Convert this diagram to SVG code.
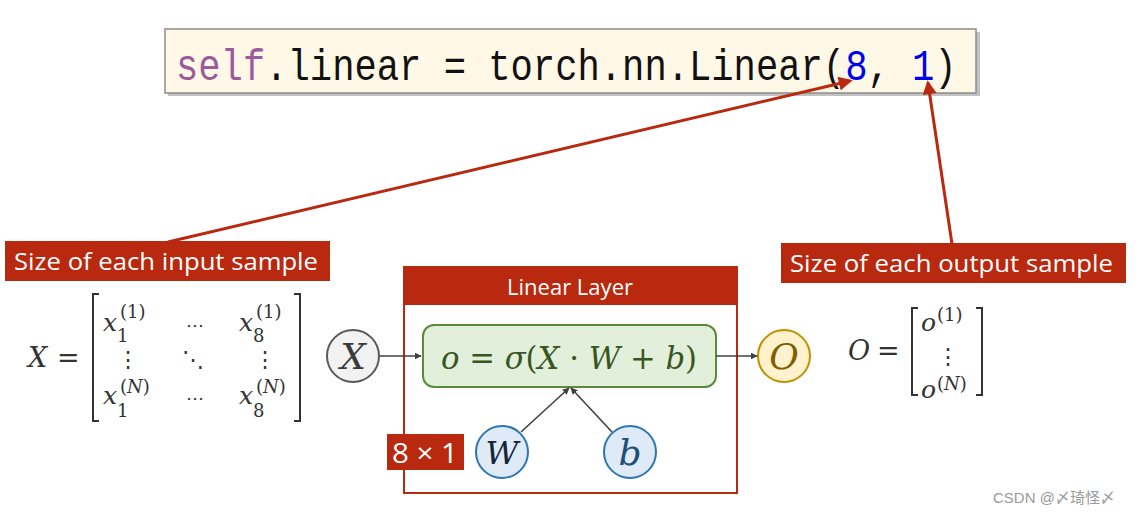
<svg xmlns="http://www.w3.org/2000/svg" width="1143" height="516" viewBox="0 0 1143 516">
<style>
.lbl{font-family:"Open Sans","Noto Sans",sans-serif;fill:#fff}
.m{font-family:"DejaVu Serif","Liberation Serif",serif;font-style:italic}
.u{font-style:normal}
.s{font-family:"DejaVu Serif","Liberation Serif",serif}
.code{font-family:"Liberation Mono",monospace;font-size:44px}
.red{fill:#B8290F}
.conn{stroke:#404040;stroke-width:1.6;fill:none}
.rconn{stroke:#B8290F;stroke-width:3;fill:none}
</style>
<defs>
<marker id="ah" viewBox="0 0 10 10" refX="9" refY="5" markerWidth="7" markerHeight="7" markerUnits="userSpaceOnUse" orient="auto"><path d="M0,0 L10,5 L0,10 z" fill="#404040"/></marker>
<marker id="rah" viewBox="0 0 10 10" refX="8" refY="5" markerWidth="16" markerHeight="14" markerUnits="userSpaceOnUse" orient="auto"><path d="M0,0 L10,5 L0,10 z" fill="#B8290F"/></marker>
</defs>
<rect width="1143" height="516" fill="#fff"/>

<g id="code">
<rect x="168" y="32" width="812" height="64" fill="#9a9a9a" opacity="0.6"/>
<rect x="165" y="29" width="811" height="64" fill="#FFF8E6" stroke="#8c8c8c" stroke-width="1.5"/>
<g transform="translate(176,80) scale(0.845,1)">
<text x="0" y="0" class="code" fill="#111" xml:space="preserve"><tspan fill="#9B5A9C">self</tspan>.linear = torch.nn.Linear(<tspan fill="#0000F0">8</tspan>, <tspan fill="#0000F0">1</tspan>)</text>
</g>
</g>

<g id="input-label">
<rect x="5" y="241" width="325" height="40" class="red"/>
<text x="14" y="270" class="lbl" font-size="24" textLength="304" lengthAdjust="spacingAndGlyphs">Size of each input sample</text>
</g>

<g id="output-label">
<rect x="781" y="243" width="345" height="40" class="red"/>
<text x="790" y="272" class="lbl" font-size="24" textLength="323" lengthAdjust="spacingAndGlyphs">Size of each output sample</text>
</g>

<g id="linear-layer">
<rect x="404" y="267" width="333" height="226" fill="#fff" stroke="#B8290F" stroke-width="2"/>
<rect x="404" y="267" width="333" height="38" class="red"/>
<text x="507" y="295" class="lbl" font-size="21.5" textLength="126" lengthAdjust="spacingAndGlyphs">Linear Layer</text>
</g>

<g id="func">
<rect x="423" y="325" width="293" height="62" rx="11" fill="#E2EFDA" stroke="#5B8A3A" stroke-width="2"/>
<text x="441" y="369" class="m" font-size="32" fill="#38561F" textLength="256" lengthAdjust="spacingAndGlyphs" xml:space="preserve">o <tspan class="u">=</tspan> σ<tspan class="u">(</tspan>X <tspan class="u">·</tspan> W <tspan class="u">+</tspan> b<tspan class="u">)</tspan></text>
</g>

<g id="node-X">
<circle cx="353" cy="356" r="26" fill="#F2F2F2" stroke="#595959" stroke-width="2"/>
<text x="353" y="369" class="m" font-size="36" fill="#3a3a3a" text-anchor="middle">X</text>
</g>

<g id="node-O">
<circle cx="784" cy="356" r="26" fill="#FFF2CC" stroke="#C09000" stroke-width="2"/>
<text x="784" y="369" class="m" font-size="36" fill="#7F6000" text-anchor="middle">O</text>
</g>

<g id="node-W">
<circle cx="502" cy="452" r="26" fill="#DEEBF7" stroke="#2E75B6" stroke-width="2"/>
<text x="502" y="464" class="m" font-size="32" fill="#14243d" text-anchor="middle">W</text>
</g>

<g id="node-b">
<circle cx="630" cy="452" r="26" fill="#DEEBF7" stroke="#2E75B6" stroke-width="2"/>
<text x="630" y="465" class="m" font-size="36" fill="#1F4E79" text-anchor="middle">b</text>
</g>

<g id="dim-label">
<rect x="387" y="434" width="77" height="36" class="red"/>
<text x="392" y="463" class="lbl" font-size="27" textLength="66" lengthAdjust="spacingAndGlyphs">8 × 1</text>
</g>

<g id="matrix-X" fill="#333">
<text x="28" y="367" class="m" font-size="27">X</text>
<text x="57" y="367" class="s" font-size="27">=</text>
<path d="M99,294 H93 V421 H99 M294,294 H300 V421 H294" fill="none" stroke="#333" stroke-width="2"/>
<text x="103" y="331" class="m" font-size="25">x</text>
<text x="117" y="342" class="s" font-size="18">1</text>
<text x="120" y="318" class="s" font-size="18">(1)</text>
<text x="186" y="331" class="s" font-size="18">⋯</text>
<text x="239" y="331" class="m" font-size="25">x</text>
<text x="253" y="342" class="s" font-size="18">8</text>
<text x="256" y="318" class="s" font-size="18">(1)</text>
<text x="128" y="367" class="s" font-size="22" text-anchor="middle">⋮</text>
<text x="193" y="367" class="s" font-size="22" text-anchor="middle">⋱</text>
<text x="265" y="367" class="s" font-size="22" text-anchor="middle">⋮</text>
<text x="103" y="404" class="m" font-size="25">x</text>
<text x="117" y="417" class="s" font-size="18">1</text>
<text x="120" y="393" class="s" font-size="18">(<tspan font-style="italic">N</tspan>)</text>
<text x="186" y="404" class="s" font-size="18">⋯</text>
<text x="239" y="404" class="m" font-size="25">x</text>
<text x="253" y="417" class="s" font-size="18">8</text>
<text x="256" y="393" class="s" font-size="18">(<tspan font-style="italic">N</tspan>)</text>
</g>

<g id="matrix-O" fill="#333">
<text x="848" y="360" class="m" font-size="27">O</text>
<text x="877" y="360" class="s" font-size="27">=</text>
<path d="M918,308 H912 V395 H918 M976,308 H982 V395 H976" fill="none" stroke="#333" stroke-width="2"/>
<text x="921" y="331" class="m" font-size="25">o</text>
<text x="937" y="321" class="s" font-size="18">(1)</text>
<text x="948" y="364" class="s" font-size="22" text-anchor="middle">⋮</text>
<text x="921" y="398" class="m" font-size="25">o</text>
<text x="937" y="390" class="s" font-size="18">(<tspan font-style="italic">N</tspan>)</text>
</g>

<g id="connectors">
<line class="rconn" x1="168" y1="242" x2="850" y2="81" marker-end="url(#rah)"/>
<line class="rconn" x1="952" y1="244" x2="928" y2="83" marker-end="url(#rah)"/>
<line class="conn" x1="380" y1="356" x2="421" y2="356" marker-end="url(#ah)"/>
<line class="conn" x1="716" y1="356" x2="757" y2="356" marker-end="url(#ah)"/>
<line class="conn" x1="521" y1="432" x2="569" y2="388" marker-end="url(#ah)"/>
<line class="conn" x1="612" y1="432" x2="571" y2="388" marker-end="url(#ah)"/>
</g>

<text x="993" y="503" font-family="Liberation Sans,Noto Sans CJK SC,sans-serif" font-size="15" fill="#9a9a9a">CSDN @〆琦怪〆</text>
</svg>
